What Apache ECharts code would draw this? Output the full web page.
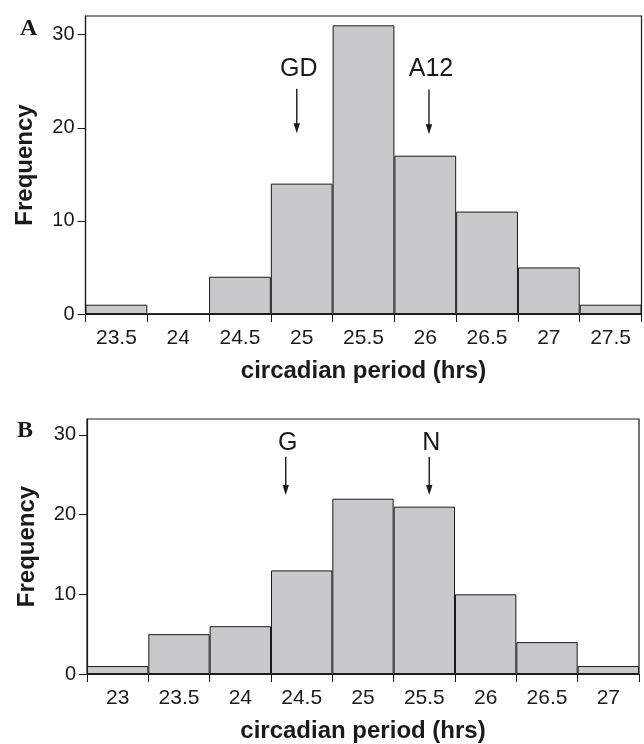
<!DOCTYPE html>
<html>
<head>
<meta charset="utf-8">
<script src="https://cdn.jsdelivr.net/npm/echarts@6/dist/echarts.min.js"></script>
<style>
html,body{margin:0;padding:0;background:#fff;}
#chart{width:644px;height:744px;}
</style>
</head>
<body>
<div id="chart"></div>
<script>
// ---- data ----
const binsA = ['23.5','24','24.5','25','25.5','26','26.5','27','27.5'];
const freqA = [1, 0, 4, 14, 31, 17, 11, 5, 1];
const binsB = ['23','23.5','24','24.5','25','25.5','26','26.5','27'];
const freqB = [1, 5, 6, 13, 22, 21, 10, 4, 1];
const yTickValues = [0, 10, 20, 30];
const yMax = 32;
// annotations: strain label, period (hrs), arrow top, arrow tip, label height (frequency units)
const strainsA = ['GD', 'A12'];
const periodsA = [24.96, 26.03];
const arrowTopA = [24.2, 24.1];
const arrowTipA = [19.4, 19.3];
const labelYA = [26.3, 26.3];
const strainsB = ['G', 'N'];
const periodsB = [24.37, 25.54];
const arrowTopB = [27.25, 27.25];
const arrowTipB = [22.45, 22.45];
const labelYB = [29.0, 29.0];
const xTitle = 'circadian period (hrs)';
const yTitle = 'Frequency';

// convert hours to bin position on a continuous 0..n axis
function binPos(bins, hrs){ return (hrs - parseFloat(bins[0])) / 0.5 + 0.5; }
function annot(bins, names, periods, tops, tips, labs){
  return names.map((n,i)=>[binPos(bins, periods[i]), tops[i], tips[i], labs[i], n]);
}

const FONT = 'Liberation Sans';
const BAR_FILL = '#c8c9cb';
const INK = '#1a1a1a';

function catAxis(grid, bins){
  return {
    type:'category', gridIndex:grid, data:bins,
    boundaryGap:true,
    axisLine:{show:true, lineStyle:{color:INK, width:1.2}},
    axisTick:{show:true, length:8, inside:false, alignWithLabel:false, lineStyle:{color:INK, width:1}},
    axisLabel:{color:INK, fontFamily:FONT, fontSize:21, margin:14},
    name:xTitle, nameLocation:'middle', nameGap:45,
    nameTextStyle:{color:INK, fontFamily:FONT, fontSize:24, fontWeight:'bold'},
    splitLine:{show:false}
  };
}
function valAxis(grid){
  return {
    type:'value', gridIndex:grid, min:0, max:yMax, interval:10,
    axisLine:{show:true, lineStyle:{color:INK, width:1.2}},
    axisTick:{show:true, length:8, customValues:yTickValues, lineStyle:{color:INK, width:1}},
    axisLabel:{color:INK, fontFamily:FONT, fontSize:20, margin:11, customValues:yTickValues,
      formatter:(v)=> yTickValues.indexOf(v) >= 0 ? String(v) : ''},
    splitLine:{show:false},
    name:yTitle, nameLocation:'middle', nameGap:48, nameRotate:90,
    nameTextStyle:{color:INK, fontFamily:FONT, fontSize:24, fontWeight:'bold'}
  };
}
function hiddenX(grid, n){
  return {type:'value', gridIndex:grid, min:0, max:n, show:false};
}
function barSeries(xi, yi, data){
  return {
    type:'bar', xAxisIndex:xi, yAxisIndex:yi, data:data,
    barCategoryGap:'0%', barGap:'0%',
    itemStyle:{color:BAR_FILL, borderColor:INK, borderWidth:1},
    silent:true, animation:false
  };
}
function arrowSeries(xi, yi, data){
  return {
    type:'custom', xAxisIndex:xi, yAxisIndex:yi, data:data, silent:true, animation:false,
    encode:{x:0, y:1},
    renderItem:function(params, api){
      const x = api.value(0);
      const p1 = api.coord([x, api.value(1)]);
      const p2 = api.coord([x, api.value(2)]);
      const pl = api.coord([x, api.value(3)]);
      const head = 10, hw = 3.2;
      return {type:'group', children:[
        {type:'line', shape:{x1:p1[0], y1:p1[1], x2:p2[0], y2:p2[1]-head+1}, style:{stroke:INK, lineWidth:1.4}},
        {type:'polygon', shape:{points:[[p2[0]-hw, p2[1]-head],[p2[0]+hw, p2[1]-head],[p2[0], p2[1]]]}, style:{fill:INK}},
        {type:'text', x:pl[0]+2, y:pl[1], style:{text:api.value(4), fill:INK, font:'25px "'+FONT+'"', align:'center', verticalAlign:'middle'}}
      ]};
    }
  };
}

const option = {
  backgroundColor:'#fff',
  animation:false,
  grid:[
    {left:85.5, top:16, width:556, height:298, show:true, borderColor:INK, borderWidth:1.2, backgroundColor:'transparent'},
    {left:87, top:419, width:552, height:258, show:true, borderColor:INK, borderWidth:1.2, backgroundColor:'transparent'}
  ],
  xAxis:[catAxis(0, binsA), catAxis(1, binsB), hiddenX(0, binsA.length), hiddenX(1, binsB.length)],
  yAxis:[valAxis(0), valAxis(1)],
  series:[
    barSeries(0, 0, freqA),
    barSeries(1, 1, freqB),
    arrowSeries(2, 0, annot(binsA, strainsA, periodsA, arrowTopA, arrowTipA, labelYA)),
    arrowSeries(3, 1, annot(binsB, strainsB, periodsB, arrowTopB, arrowTipB, labelYB))
  ],
  graphic:[
    {type:'text', left:20, top:17, style:{text:'A', fill:INK, font:'bold 24px "Liberation Serif"'}},
    {type:'text', left:17, top:419, style:{text:'B', fill:INK, font:'bold 24px "Liberation Serif"'}}
  ]
};
const chart = echarts.init(document.getElementById('chart'), null, {renderer:'canvas'});
chart.setOption(option);
</script>
</body>
</html>
